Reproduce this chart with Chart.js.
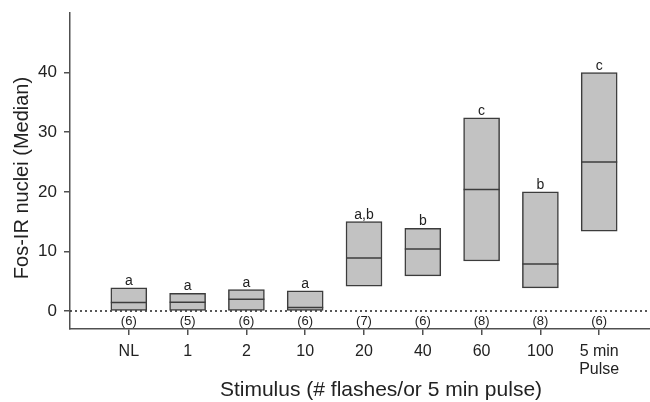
<!DOCTYPE html>
<html>
<head>
<meta charset="utf-8">
<script src="https://cdn.jsdelivr.net/npm/chart.js@4.4.1/dist/chart.umd.min.js"></script>
<style>
html,body{margin:0;padding:0;background:#fff;}
#wrap{width:650px;height:402px;position:relative;}
</style>
</head>
<body>
<div id="wrap"><canvas id="c" width="650" height="402"></canvas></div>
<script>
const categories = ['NL', '1', '2', '10', '20', '40', '60', '100', ['5 min', 'Pulse']];
const boxLow    = [0, 0, 0, 0, 4.2, 5.9, 8.4, 3.9, 13.4];
const boxHigh   = [3.9, 3.0, 3.6, 3.4, 15.0, 13.9, 32.4, 20.0, 40.0];
const medians   = [1.45, 1.5, 2.0, 0.6, 8.9, 10.4, 20.4, 7.9, 25.0];
const groupLetters = ['a', 'a', 'a', 'a', 'a,b', 'b', 'c', 'b', 'c'];
const nCounts   = ['(6)', '(5)', '(6)', '(6)', '(7)', '(6)', '(8)', '(8)', '(6)'];
const yTickValues = [0, 10, 20, 30, 40];
const yTitle = 'Fos-IR nuclei (Median)';
const xTitle = 'Stimulus (# flashes/or 5 min pulse)';

const FONT = '"Liberation Sans", Arial, Helvetica, sans-serif';
const AXIS = '#505050';

const annot = {
  id: 'annot',
  beforeDatasetsDraw(chart) {
    const {ctx, chartArea, scales} = chart;
    const y0 = scales.y.getPixelForValue(0);
    ctx.save();
    ctx.strokeStyle = '#222';
    ctx.lineWidth = 1.5;
    ctx.setLineDash([2, 3]);
    ctx.beginPath();
    ctx.moveTo(chartArea.left, y0);
    ctx.lineTo(chartArea.right, y0);
    ctx.stroke();
    ctx.restore();
  },
  afterDraw(chart) {
    const {ctx, scales, chartArea} = chart;
    ctx.save();
    ctx.fillStyle = '#222';
    ctx.textAlign = 'center';
    ctx.textBaseline = 'alphabetic';
    ctx.font = '14px ' + FONT;
    groupLetters.forEach((t, i) => {
      const x = scales.x.getPixelForValue(i + 1);
      const y = scales.y.getPixelForValue(boxHigh[i]);
      ctx.fillText(t, x, y - 3);
    });
    ctx.textBaseline = 'middle';
    ctx.font = '13px ' + FONT;
    const yN = (scales.y.getPixelForValue(0) + chartArea.bottom) / 2 + 1;
    nCounts.forEach((t, i) => {
      const x = scales.x.getPixelForValue(i + 1);
      ctx.fillText(t, x, yN);
    });
    // axis titles
    ctx.font = '21px ' + FONT;
    ctx.fillText(xTitle, 381, 390);
    ctx.font = '20px ' + FONT;
    ctx.translate(22, 178);
    ctx.rotate(-Math.PI / 2);
    ctx.fillText(yTitle, 0, 0);
    ctx.restore();
  }
};

const boxData = categories.map((c, i) => ({x: i + 1, y: [boxLow[i], boxHigh[i]]}));
const medData = categories.map((c, i) => ({x: i + 1, y: medians[i]}));

new Chart(document.getElementById('c'), {
  data: {
    datasets: [
      {
        type: 'bar',
        data: boxData,
        backgroundColor: '#c2c2c2',
        borderColor: '#3c3c3c',
        borderWidth: 1.5,
        borderSkipped: false,
        barThickness: 36,
        order: 2
      },
      {
        type: 'line',
        data: medData,
        showLine: false,
        clip: false,
        pointStyle: 'line',
        pointRadius: 18,
        pointHoverRadius: 18,
        borderColor: '#3c3c3c',
        pointBorderWidth: 1.5,
        borderWidth: 1.5,
        order: 1
      }
    ]
  },
  plugins: [annot],
  options: {
    responsive: false,
    animation: false,
    events: [],
    layout: {autoPadding: false, padding: {top: 13, right: 0, left: 0, bottom: 0}},
    plugins: {legend: {display: false}, tooltip: {enabled: false}},
    scales: {
      x: {
        type: 'linear',
        offset: false,
        min: 0,
        max: 9.864,
        afterBuildTicks: s => { s.ticks = categories.map((c, i) => ({value: i + 1})); },
        afterFit: s => { s.height = 73; s.paddingLeft = 0; s.paddingRight = 0; },
        border: {display: true, color: AXIS, width: 1.5},
        grid: {display: true, offset: false, drawOnChartArea: false, drawTicks: true, tickLength: 6, color: AXIS, lineWidth: 1.5},
        ticks: {
          padding: 7,
          maxRotation: 0,
          autoSkip: false,
          color: '#222',
          font: {family: FONT, size: 16, lineHeight: 1.15},
          callback: v => categories[Math.round(v) - 1] ?? ''
        }
      },
      y: {
        type: 'linear',
        min: -3,
        max: 50,
        afterBuildTicks: s => { s.ticks = yTickValues.map(v => ({value: v})); },
        afterFit: s => { s.width = 70; s.paddingTop = 0; s.paddingBottom = 0; },
        border: {display: true, color: AXIS, width: 1.5},
        grid: {display: true, drawOnChartArea: false, drawTicks: true, tickLength: 6, color: AXIS, lineWidth: 1.5},
        ticks: {
          padding: 7,
          color: '#222',
          font: {family: FONT, size: 17},
          callback: v => String(v)
        }
      }
    }
  }
});
</script>
</body>
</html>
